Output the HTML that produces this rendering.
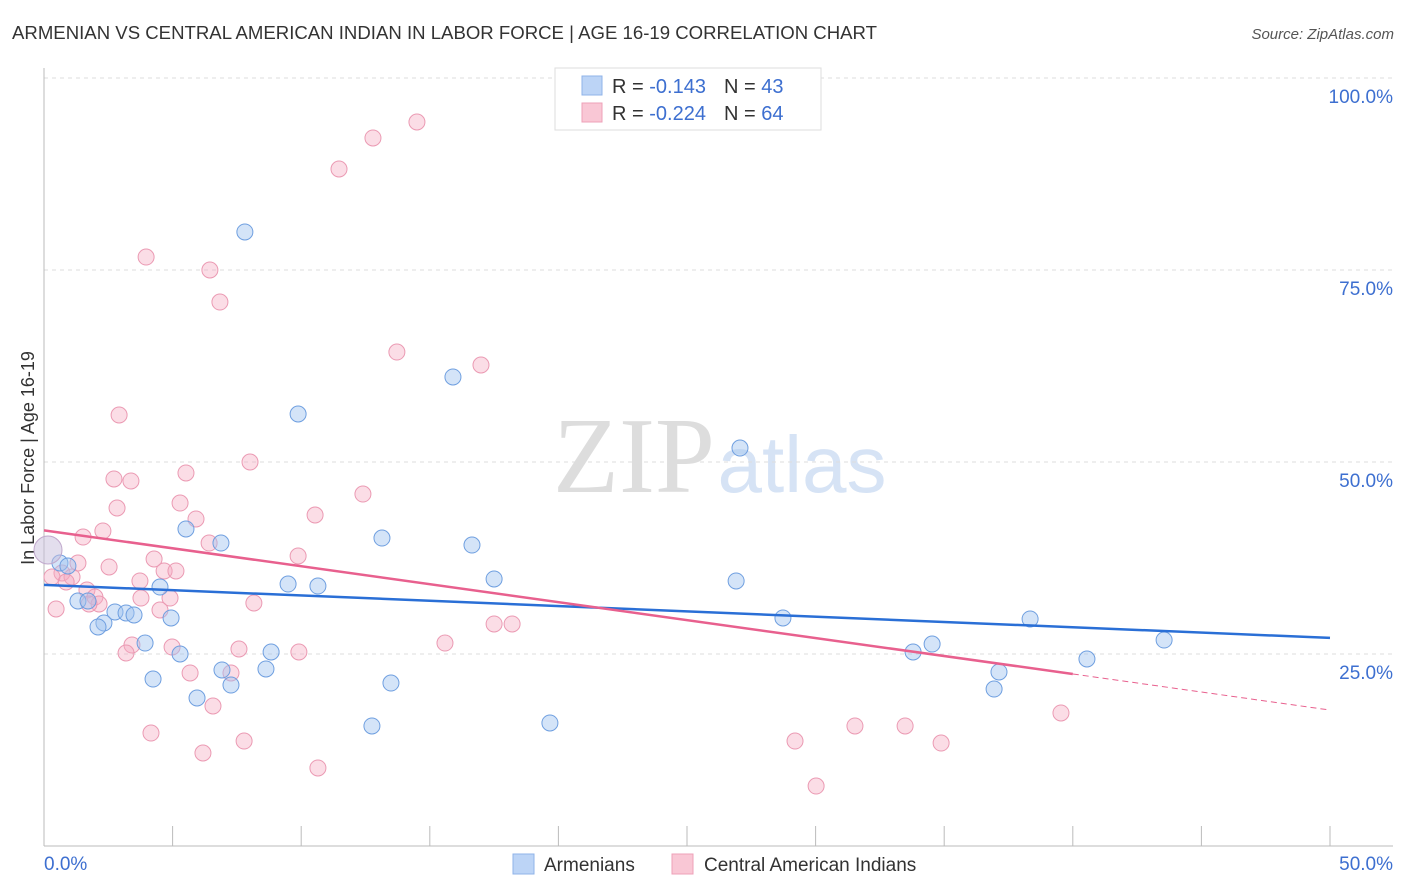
<!DOCTYPE html>
<html><head><meta charset="utf-8"><style>
body{margin:0;background:#fff;font-family:"Liberation Sans",sans-serif;}
svg{display:block}
</style></head><body>
<svg id="c" width="1406" height="892">
<text x="12" y="39" font-size="18" fill="#333" textLength="865" lengthAdjust="spacingAndGlyphs">ARMENIAN VS CENTRAL AMERICAN INDIAN IN LABOR FORCE | AGE 16-19 CORRELATION CHART</text>
<text x="1394" y="39" font-size="15" fill="#555" font-style="italic" text-anchor="end">Source: ZipAtlas.com</text>
<text x="634" y="492" font-size="108" fill="#ddd" font-family="Liberation Serif" text-anchor="middle">ZIP</text>
<text x="802" y="492" font-size="80" fill="#d6e3f5" text-anchor="middle">atlas</text>
<text transform="translate(34,458) rotate(-90)" font-size="18" fill="#333" text-anchor="middle">In Labor Force | Age 16-19</text>
<g id="grid"></g><g id="pts"></g><g id="lines"></g>
<g>
<rect x="555" y="68" width="266" height="62" fill="#fff" stroke="#ddd"/>
<rect x="582" y="76" width="20" height="19" fill="#bcd4f6" stroke="#8fb3e8"/>
<rect x="582" y="103" width="20" height="19" fill="#f9c7d5" stroke="#eea0b8"/>
<text x="612" y="93" font-size="20" fill="#333">R = <tspan fill="#3d6fd0"> -0.143</tspan><tspan dx="18">N = </tspan><tspan fill="#3d6fd0">43</tspan></text>
<text x="612" y="120" font-size="20" fill="#333">R = <tspan fill="#3d6fd0">-0.224</tspan><tspan dx="18">N = </tspan><tspan fill="#3d6fd0">64</tspan></text>
</g>
<g>
<rect x="513" y="854" width="21" height="20" fill="#bcd4f6" stroke="#8fb3e8"/>
<text x="544" y="871" font-size="19" fill="#333">Armenians</text>
<rect x="672" y="854" width="21" height="20" fill="#f9c7d5" stroke="#eea0b8"/>
<text x="704" y="871" font-size="19" fill="#333">Central American Indians</text>
</g>
</svg>
<script>
const yTicks=[25,50,75,100];
const xTickLabels=["0.0%","50.0%"];
const bluePx=[[245,232],[453,377],[298,414],[740,448],[186,529],[221,543],[382,538],[472,545],[494,579],[736,581],[288,584],[318,586],[160,587],[60,563],[68,566],[78,601],[88,601],[115,612],[126,613],[134,615],[104,623],[98,627],[171,618],[783,618],[1030,619],[1164,640],[145,643],[932,644],[913,652],[271,652],[180,654],[1087,659],[222,670],[266,669],[999,672],[153,679],[391,683],[231,685],[994,689],[197,698],[550,723],[372,726]];
const pinkPx=[[417,122],[373,138],[339,169],[146,257],[210,270],[220,302],[397,352],[481,365],[119,415],[250,462],[186,473],[114,479],[131,481],[363,494],[180,503],[117,508],[315,515],[196,519],[103,531],[83,537],[209,543],[298,556],[154,559],[78,563],[109,567],[164,571],[176,571],[62,573],[72,577],[140,581],[87,590],[95,597],[170,598],[141,598],[254,603],[99,604],[89,604],[160,610],[56,609],[445,643],[494,624],[512,624],[132,645],[172,647],[239,649],[299,652],[126,653],[190,673],[231,673],[213,706],[151,733],[855,726],[905,726],[1061,713],[244,741],[795,741],[941,743],[203,753],[318,768],[816,786],[52,577],[66,582]];
const toVal=p=>[+((p[0]-44)/1286*50).toFixed(2),+((846-p[1])/768*100).toFixed(2)];
const blueData=bluePx.map(toVal), pinkData=pinkPx.map(toVal);
const blueTrend=[[0,34.0],[50,27.1]];
const pinkTrend=[[0,41.1],[40,22.4],[50,17.7]];
const X=v=>44+v/50*1286, Y=v=>846-v/100*768;
const NS="http://www.w3.org/2000/svg";
function mk(t,a,p){const e=document.createElementNS(NS,t);for(const k in a)e.setAttribute(k,a[k]);p.appendChild(e);return e;}
const g=document.getElementById('grid');
yTicks.forEach(t=>{const l=mk('line',{x1:44,x2:1393,y1:Y(t),y2:Y(t),stroke:'#ddd','stroke-dasharray':'4,4'},g);

const tx=mk('text',{x:1393,y:Y(t)+25,'font-size':19,fill:'#3d6fd0','text-anchor':'end'},g);tx.textContent=t.toFixed(1)+'%';
});
mk('line',{x1:44,x2:44,y1:68,y2:846,stroke:'#bbb'},g);
mk('line',{x1:44,x2:1393,y1:846,y2:846,stroke:'#bbb'},g);
for(let i=0;i<=10;i++){mk('line',{x1:X(i*5),x2:X(i*5),y1:826,y2:846,stroke:'#bbb'},g);}
[[0,'start',44],[50,'end',1393]].forEach((d,i)=>{const tx=mk('text',{x:d[2],y:870,'font-size':19,fill:'#3d6fd0','text-anchor':d[1]},g);tx.textContent=xTickLabels[i];
});
const pg=document.getElementById('pts');
pinkData.forEach(d=>{const c=mk('circle',{cx:X(d[0]),cy:Y(d[1]),r:8,fill:'rgba(244,170,192,0.4)',stroke:'#eb9ab3','stroke-width':1},pg);
});
blueData.forEach(d=>{const c=mk('circle',{cx:X(d[0]),cy:Y(d[1]),r:8,fill:'rgba(160,195,240,0.45)',stroke:'#6f9fe0','stroke-width':1},pg);
});
const big=mk('circle',{cx:48,cy:550,r:14,fill:'rgba(200,190,220,0.5)',stroke:'#c0a8cc'},pg);

const lg=document.getElementById('lines');
let l=mk('line',{x1:X(blueTrend[0][0]),y1:Y(blueTrend[0][1]),x2:X(blueTrend[1][0]),y2:Y(blueTrend[1][1]),stroke:'#2a6fd6','stroke-width':2.5},lg);

l=mk('line',{x1:X(pinkTrend[0][0]),y1:Y(pinkTrend[0][1]),x2:X(pinkTrend[1][0]),y2:Y(pinkTrend[1][1]),stroke:'#e8608e','stroke-width':2.5},lg);

l=mk('line',{x1:X(pinkTrend[1][0]),y1:Y(pinkTrend[1][1]),x2:X(pinkTrend[2][0]),y2:Y(pinkTrend[2][1]),stroke:'#e8608e','stroke-width':1,'stroke-dasharray':'6,4'},lg);

</script>
</body></html>
